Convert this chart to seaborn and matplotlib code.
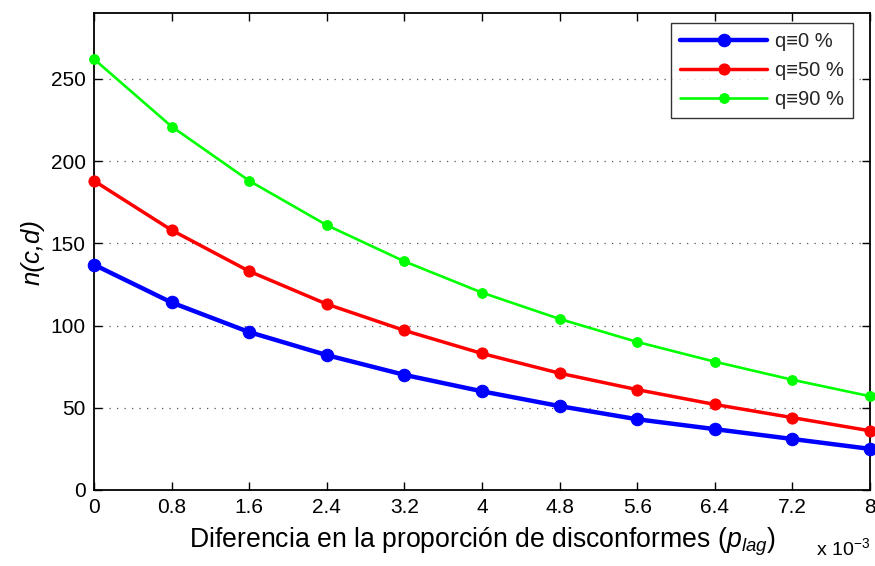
import matplotlib
matplotlib.use("Agg")
import matplotlib.pyplot as plt
import seaborn as sns
import pandas as pd

x_vals = [0, 0.8, 1.6, 2.4, 3.2, 4, 4.8, 5.6, 6.4, 7.2, 8]
q0 = [137, 114, 96, 82, 70, 60, 51, 43, 37, 31, 25]
q50 = [188, 158, 133, 113, 97, 83, 71, 61, 52, 44, 36]
q90 = [262, 221, 188, 161, 139, 120, 104, 90, 78, 67, 57]
series_labels = ["q≡0 %", "q≡50 %", "q≡90 %"]
x_tick_labels = ["0", "0.8", "1.6", "2.4", "3.2", "4", "4.8", "5.6", "6.4", "7.2", "8"]
y_ticks = [0, 50, 100, 150, 200, 250]

sns.set_theme(style="white")
plt.rcParams['font.family'] = ['Liberation Sans', 'DejaVu Sans']
plt.rcParams['mathtext.fontset'] = 'custom'
plt.rcParams['mathtext.it'] = 'Liberation Sans:italic'
plt.rcParams['mathtext.rm'] = 'Liberation Sans'
plt.rcParams.update({
    'xtick.bottom': True, 'xtick.top': True, 'ytick.left': True, 'ytick.right': True,
    'xtick.direction': 'in', 'ytick.direction': 'in',
    'xtick.major.size': 6, 'ytick.major.size': 6,
    'xtick.major.width': 1.0, 'ytick.major.width': 1.0,
    'xtick.color': 'black', 'ytick.color': 'black',
    'axes.axisbelow': False,
})

fig = plt.figure(figsize=(8.75, 5.66), dpi=100)
ax = fig.add_axes([0.1074, 0.1343, 0.8869, 0.8427])

styles = [("#0000ff", 3.2, 9.0), ("#ff0000", 2.5, 8.0), ("#00ff00", 1.9, 7.0)]
for vals, lab, (c, lw, ms) in zip([q0, q50, q90], series_labels, styles):
    df = pd.DataFrame({"x": x_vals, "y": vals})
    sns.lineplot(data=df, x="x", y="y", ax=ax, color=c, linewidth=lw,
                 marker="o", markersize=ms, markeredgecolor=c, label=lab,
                 clip_on=False, zorder=3)

ax.set_xlim(0, 8)
ax.set_ylim(0, 290)
ax.set_xticks(x_vals)
ax.set_xticklabels(x_tick_labels)
ax.set_yticks(y_ticks)
ax.tick_params(which="major", direction="in", top=True, right=True, bottom=True, left=True,
               length=6, width=1, labelsize=15, color="black",
               labelcolor="black", pad=6)
for s in ax.spines.values():
    s.set_color("black")
    s.set_linewidth(1.3)
ax.yaxis.grid(True, linestyle=(0, (1, 5)), color="#555555", linewidth=0.9)
ax.xaxis.grid(False)

ax.set_xlabel("Diferencia en la proporción de disconformes ($p_{lag}$)", fontsize=19.2,
              color="black", labelpad=6)
ax.set_ylabel("n(c,d)", fontsize=18.5, fontstyle="italic", color="black", labelpad=4)
ax.text(1.0, -0.1, "x 10$^{-3}$", transform=ax.transAxes, ha="right", va="top",
        fontsize=14, color="black")

leg = ax.legend(loc="upper right", fontsize=14.5, frameon=True, fancybox=False,
                edgecolor="black", handlelength=4.3, borderpad=0.45,
                labelspacing=0.5, handletextpad=0.4, borderaxespad=0,
                bbox_to_anchor=(0.978, 0.979))
leg.get_frame().set_linewidth(1.0)
leg.set_zorder(5)

fig.savefig("out.png", dpi=100, facecolor="white")
